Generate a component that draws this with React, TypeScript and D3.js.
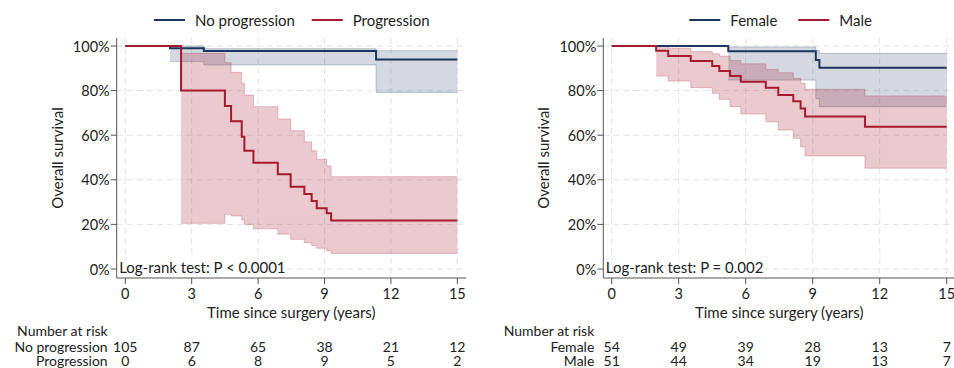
import React from 'react'
import * as d3 from 'd3'

const yearTicks = [0, 3, 6, 9, 12, 15]
const pctTicks = [0, 0.2, 0.4, 0.6, 0.8, 1]

// left panel - progression status
const noProgTime = [0, 2.02, 3.55, 11.33]
const noProgSurv = [1, 0.99, 0.978, 0.94]
const noProgLow = [1, 0.93, 0.915, 0.792]
const noProgHigh = [1, 1, 0.988, 0.979]

const progTime = [0, 2.52, 4.5, 4.78, 5.26, 5.38, 5.79, 6.89, 7.47, 8.09, 8.42, 8.65, 9.1, 9.3]
const progSurv = [1, 0.8, 0.731, 0.662, 0.593, 0.53, 0.477, 0.425, 0.369, 0.336, 0.305, 0.272, 0.25, 0.217]
const progLow = [1, 0.205, 0.245, 0.238, 0.22, 0.2, 0.18, 0.156, 0.133, 0.118, 0.105, 0.093, 0.082, 0.07]
const progHigh = [1, 0.967, 0.925, 0.882, 0.833, 0.78, 0.728, 0.673, 0.62, 0.57, 0.53, 0.492, 0.462, 0.414]

// right panel - sex
const femaleTime = [0, 5.22, 9.14, 9.3]
const femaleSurv = [1, 0.977, 0.937, 0.903]
const femaleLow = [1, 0.847, 0.764, 0.728]
const femaleHigh = [1, 0.996, 0.98, 0.967]

const maleTime = [0, 1.99, 2.53, 3.54, 4.5, 4.82, 5.3, 5.78, 6.9, 7.46, 8.13, 8.46, 8.66, 11.34]
const maleSurv = [1, 0.979, 0.955, 0.933, 0.91, 0.888, 0.865, 0.84, 0.813, 0.78, 0.752, 0.72, 0.684, 0.638]
const maleLow = [1, 0.865, 0.843, 0.813, 0.788, 0.761, 0.728, 0.695, 0.66, 0.623, 0.586, 0.548, 0.507, 0.452]
const maleHigh = [1, 1, 0.99, 0.975, 0.965, 0.955, 0.935, 0.92, 0.895, 0.88, 0.855, 0.833, 0.806, 0.776]

// number at risk
const riskNoProg = [105, 87, 65, 38, 21, 12]
const riskProg = [0, 6, 8, 9, 5, 2]
const riskFemale = [54, 49, 39, 28, 13, 7]
const riskMale = [51, 44, 34, 19, 13, 7]

const BLUE = '#1d3661'
const RED = '#a6192e'
const FONT = 'Lato, sans-serif'
const TXT = '#222'

const mkSeries = (time, surv, low, high, color, name, alpha) => ({ time, surv, low, high, color, name, alpha })

function Band({ s, x, y }) {
  const pts = s.time.map((t, i) => ({ t, lo: s.low[i], hi: s.high[i] }))
  pts.push({ ...pts[pts.length - 1], t: 15 })
  const band = pts.slice(1)
  const area = d3.area().curve(d3.curveStepAfter).x(d => x(d.t)).y0(d => y(d.lo)).y1(d => y(d.hi))
  const loLine = d3.line().curve(d3.curveStepAfter).x(d => x(d.t)).y(d => y(d.lo))
  const hiLine = d3.line().curve(d3.curveStepAfter).x(d => x(d.t)).y(d => y(d.hi))
  return (
    <g>
      <path d={area(band)} fill={s.color} fillOpacity={s.alpha} />
      <path d={loLine(band)} fill="none" stroke={s.color} strokeOpacity={0.25} />
      <path d={hiLine(band)} fill="none" stroke={s.color} strokeOpacity={0.25} />
    </g>
  )
}

function KmLine({ s, x, y }) {
  const pts = s.time.map((t, i) => ({ t, v: s.surv[i] }))
  pts.push({ t: 15, v: s.surv[s.surv.length - 1] })
  const line = d3.line().curve(d3.curveStepAfter).x(d => x(d.t)).y(d => y(d.v))
  return <path d={line(pts)} fill="none" stroke={s.color} strokeWidth={2} />
}

function Panel({ axisX, x0, x1, series, risk, pText, pWidth, legendPos }) {
  const x = d3.scaleLinear().domain([0, 15]).range([x0, x1])
  const y = d3.scaleLinear().domain([0, 1]).range([269, 46])
  const top = 38
  const bottom = 278
  const right = x1 + 8.7
  const pct = d3.format('.0%')
  return (
    <g fontFamily={FONT} fill={TXT}>
      {/* grid */}
      {pctTicks.map(t => (
        <line key={'gy' + t} x1={axisX} x2={right} y1={y(t)} y2={y(t)} stroke="#e2e2e2" strokeDasharray="6,4" />
      ))}
      {yearTicks.map(t => (
        <line key={'gx' + t} x1={x(t)} x2={x(t)} y1={top} y2={bottom} stroke="#e2e2e2" strokeDasharray="6,4" />
      ))}
      {series.map(s => <Band key={'c' + s.name} s={s} x={x} y={y} />)}
      {series.map(s => <KmLine key={'l' + s.name} s={s} x={x} y={y} />)}
      {/* axes */}
      <line x1={axisX} x2={axisX} y1={top} y2={bottom} stroke="#555" />
      <line x1={axisX} x2={right} y1={bottom} y2={bottom} stroke="#555" />
      {pctTicks.map(t => (
        <g key={'ty' + t}>
          <line x1={axisX - 6} x2={axisX} y1={y(t)} y2={y(t)} stroke="#555" />
          <text x={axisX - 7} y={y(t)} textAnchor="end" dominantBaseline="central" fontSize={14.5}>{pct(t)}</text>
        </g>
      ))}
      {yearTicks.map(t => (
        <g key={'tx' + t}>
          <line x1={x(t)} x2={x(t)} y1={bottom} y2={bottom + 6} stroke="#555" />
          <text x={x(t)} y={293} textAnchor="middle" dominantBaseline="central" fontSize={14.5}>{t}</text>
        </g>
      ))}
      <text x={(x0 + x1) / 2} y={311.5} textAnchor="middle" dominantBaseline="central" fontSize={15}>Time since surgery (years)</text>
      <text transform={`translate(${axisX - 60},${(top + bottom) / 2}) rotate(-90)`} textAnchor="middle" dominantBaseline="central" fontSize={15}>Overall survival</text>
      {/* log-rank */}
      <rect x={axisX + 1} y={259} width={pWidth} height={17} fill="#fff" />
      <text x={axisX + 2.5} y={267} dominantBaseline="central" fontSize={15}>{pText}</text>
      {/* legend */}
      {series.map((s, i) => (
        <g key={'lg' + s.name}>
          <line x1={legendPos[i]} x2={legendPos[i] + 31} y1={20} y2={20} stroke={s.color} strokeWidth={2} />
          <text x={legendPos[i] + 41} y={20} dominantBaseline="central" fontSize={15}>{s.name}</text>
        </g>
      ))}
      {/* risk table */}
      <text x={axisX - 9} y={330.5} textAnchor="end" dominantBaseline="central" fontSize={14}>Number at risk</text>
      {risk.map((r, j) => (
        <g key={'rk' + j}>
          <text x={axisX - 9} y={346 + j * 14.5} textAnchor="end" dominantBaseline="central" fontSize={14}>{r.name}</text>
          {r.values.map((v, i) => (
            <text key={i} x={x(yearTicks[i])} y={346 + j * 14.5} textAnchor="middle" dominantBaseline="central" fontSize={14}>{v}</text>
          ))}
        </g>
      ))}
    </g>
  )
}

export default function App() {
  const leftSeries = [
    mkSeries(noProgTime, noProgSurv, noProgLow, noProgHigh, BLUE, 'No progression', 0.19),
    mkSeries(progTime, progSurv, progLow, progHigh, RED, 'Progression', 0.23),
  ]
  const rightSeries = [
    mkSeries(femaleTime, femaleSurv, femaleLow, femaleHigh, BLUE, 'Female', 0.19),
    mkSeries(maleTime, maleSurv, maleLow, maleHigh, RED, 'Male', 0.23),
  ]
  return (
    <svg width={954} height={368} style={{ position: 'absolute', left: 0, top: 0, background: '#fff' }}>
      <rect width={954} height={368} fill="#fff" />
      <Panel
        axisX={116.7}
        x0={125.3}
        x1={457.3}
        series={leftSeries}
        risk={[{ name: 'No progression', values: riskNoProg }, { name: 'Progression', values: riskProg }]}
        pText="Log-rank test: P < 0.0001"
        pWidth={164}
        legendPos={[154, 311.7]}
      />
      <Panel
        axisX={603.3}
        x0={611.7}
        x1={946.7}
        series={rightSeries}
        risk={[{ name: 'Female', values: riskFemale }, { name: 'Male', values: riskMale }]}
        pText="Log-rank test: P = 0.002"
        pWidth={155}
        legendPos={[689.3, 798.3]}
      />
    </svg>
  )
}
